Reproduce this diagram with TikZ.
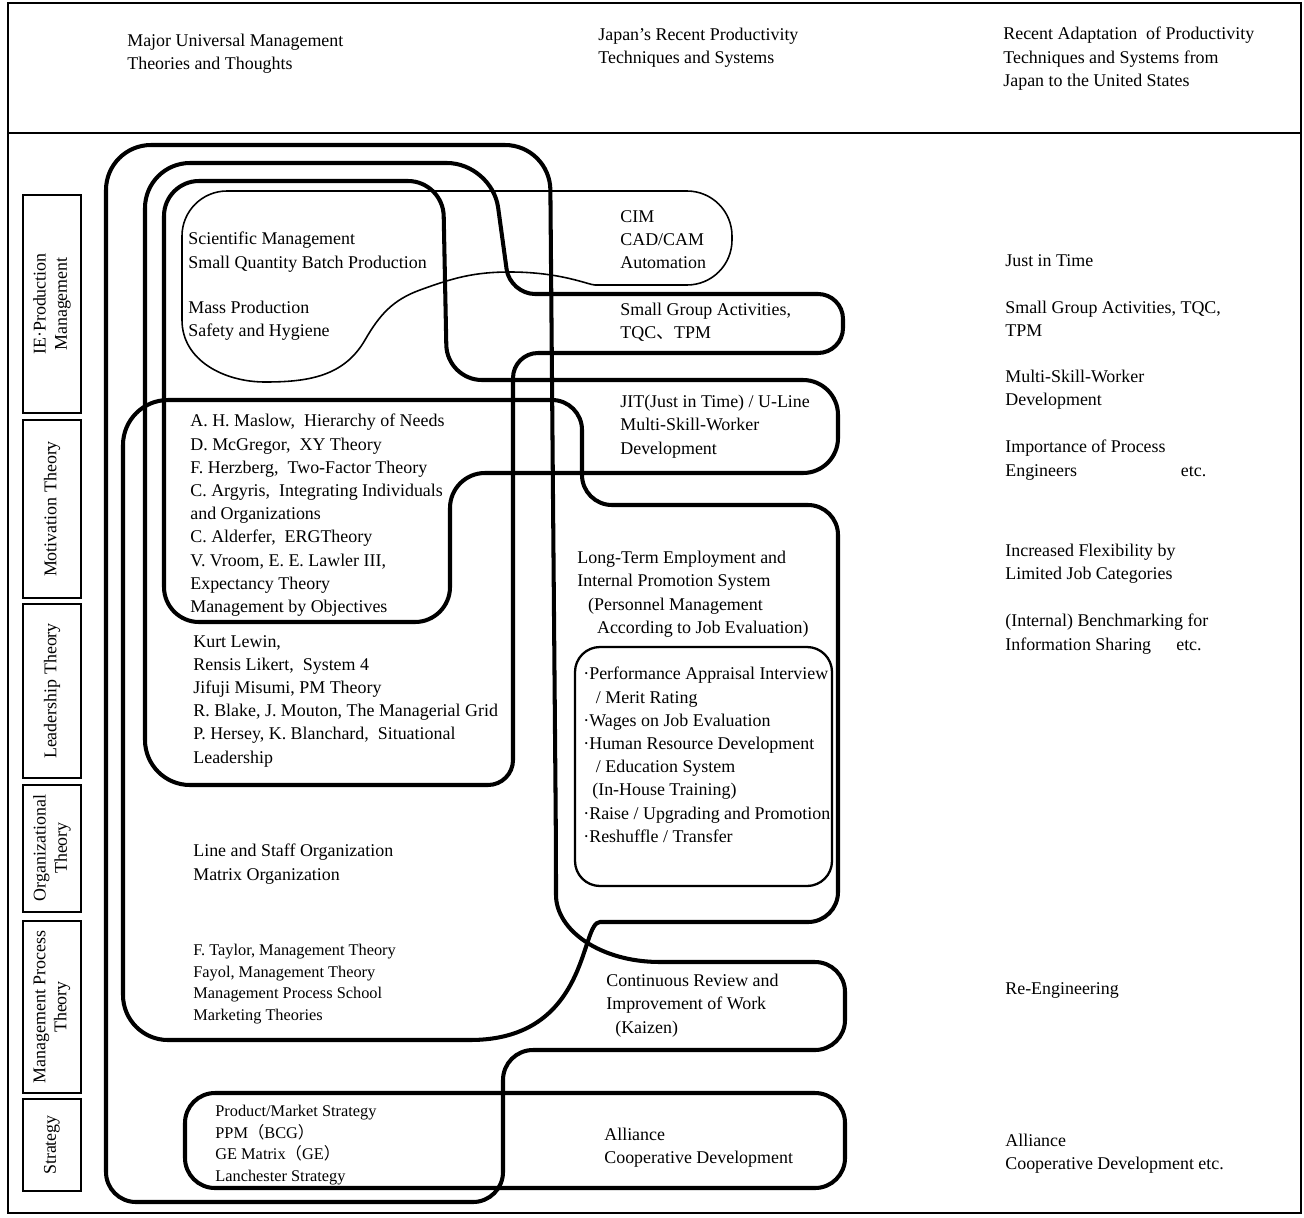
\documentclass[tikz,border=0pt]{standalone}
\usepackage{fontspec}
\setmainfont{Liberation Serif}
\newfontfamily\cjk{Noto Sans CJK JP}

\tikzstyle{txt}=[anchor=north west, inner sep=0pt, align=left, font=\fontsize{10.2}{13.2}\selectfont]
\tikzstyle{smalltxt}=[txt, font=\fontsize{9.3}{12.2}\selectfont]
\tikzstyle{rowbox}=[line width=1.1pt]
\tikzstyle{rowtxt}=[rotate=90, align=center, inner sep=0pt, font=\fontsize{10.2}{12}\selectfont]
\tikzstyle{loopline}=[line width=2.3pt, rounded corners=0.7cm]
\tikzstyle{thinloop}=[line width=0.9pt]
\tikzstyle{innerbox}=[line width=1.3pt, rounded corners=0.5cm]
\tikzstyle{frame}=[line width=0.8pt]

\begin{document}
\begin{tikzpicture}[x=0.02cm, y=-0.02cm]
  \useasboundingbox (0,0) rectangle (1304,1217);

  \draw[frame] (8,3) rectangle (1301,1213);
  \draw[frame] (8,133) -- (1301,133);
  \draw[line width=1.6pt] (8,3) -- (8,1213);

  \node[txt] (headleft) at (127,34) {Major Universal Management\\Theories and Thoughts};
  \node[txt] (headmid) at (598,28) {Japan's Recent Productivity\\Techniques and Systems};
  \node[txt] (headright) at (1003,27) {Recent Adaptation\ \ of Productivity\\Techniques and Systems from\\Japan to the United States};

  \draw[rowbox] (23,195) rectangle (81,413);
  \node[rowtxt] (rowie) at (52,304) {IE·Production\\Management};
  \draw[rowbox] (23,420) rectangle (81,598);
  \node[rowtxt] (rowmot) at (52,509) {Motivation Theory};
  \draw[rowbox] (23,604) rectangle (81,778);
  \node[rowtxt] (rowlead) at (52,691) {Leadership Theory};
  \draw[rowbox] (23,785) rectangle (81,912);
  \node[rowtxt] (roworg) at (52,848) {Organizational\\Theory};
  \draw[rowbox] (23,921) rectangle (81,1093);
  \node[rowtxt] (rowproc) at (52,1007) {Management Process\\Theory};
  \draw[rowbox] (23,1099) rectangle (81,1191);
  \node[rowtxt] (rowstrat) at (52,1145) {Strategy};

  \node[txt] (sci) at (188,232) {Scientific Management\\Small Quantity Batch Production};
  \node[txt] (mass) at (188,301) {Mass Production\\Safety and Hygiene};
  \node[txt] (maslow) at (190,414) {A. H. Maslow,\ \ Hierarchy of Needs\\D. McGregor,\ \ XY Theory\\F. Herzberg,\ \ Two-Factor Theory\\C. Argyris,\ \ Integrating Individuals\\and Organizations\\C. Alderfer,\ \ ERGTheory\\V. Vroom, E. E. Lawler III,\\Expectancy Theory\\Management by Objectives};
  \node[txt] (lewin) at (193,635) {Kurt Lewin,\\Rensis Likert,\ \ System 4\\Jifuji Misumi, PM Theory\\R. Blake, J. Mouton, The Managerial Grid\\P. Hersey, K. Blanchard,\ \ Situational\\Leadership};
  \node[txt] (org) at (193,844) {Line and Staff Organization\\Matrix Organization};
  \node[smalltxt] (taylor) at (193,944) {F. Taylor, Management Theory\\Fayol, Management Theory\\Management Process School\\Marketing Theories};
  \node[smalltxt] (prodmarket) at (215,1105) {Product/Market Strategy\\PPM{\cjk （}BCG{\cjk ）}\\GE Matrix{\cjk （}GE{\cjk ）}\\Lanchester Strategy};

  \node[txt] (cim) at (620,210) {CIM\\CAD/CAM\\Automation};
  \node[txt] (smallgroup) at (620,303) {Small Group Activities,\\TQC{\cjk 、}TPM};
  \node[txt] (jit) at (620,395) {JIT(Just in Time) / U-Line\\Multi-Skill-Worker\\Development};
  \node[txt] (longterm) at (577,551) {Long-Term Employment and\\Internal Promotion System\\\hspace{0.6em}(Personnel Management\\\hspace{1.1em}According to Job Evaluation)};
  \node[txt] (appraisal) at (583,667) {·Performance Appraisal Interview\\\hspace{0.7em}/ Merit Rating\\·Wages on Job Evaluation\\·Human Resource Development\\\hspace{0.7em}/ Education System\\\hspace{0.5em}(In-House Training)\\·Raise / Upgrading and Promotion\\·Reshuffle / Transfer};
  \node[txt] (kaizen) at (606,974) {Continuous Review and\\Improvement of Work\\\hspace{0.5em}(Kaizen)};
  \node[txt] (alliance) at (604,1128) {Alliance\\Cooperative Development};

  \node[txt] (usjit) at (1005,254) {Just in Time};
  \node[txt] (ussmall) at (1005,301) {Small Group Activities, TQC,\\TPM};
  \node[txt] (usmulti) at (1005,370) {Multi-Skill-Worker\\Development};
  \node[txt] (usprocess) at (1005,440) {Importance of Process\\Engineers\hspace{5.8em}etc.};
  \node[txt] (usflex) at (1005,544) {Increased Flexibility by\\Limited Job Categories};
  \node[txt] (usbench) at (1005,614) {(Internal) Benchmarking for\\Information Sharing\hspace{1.4em}etc.};
  \node[txt] (usreeng) at (1005,982) {Re-Engineering};
  \node[txt] (usalliance) at (1005,1134) {Alliance\\Cooperative Development etc.};

  \draw[loopline, rounded corners=0.9cm] (106,700) -- (106,145) -- (550,145) -- (556,850) [sharp corners] .. controls (556,930) and (600,962) .. (660,962) [rounded corners=0.6cm] -- (845,962) -- (845,1050) -- (503,1050) -- (503,1202) -- (106,1202) -- cycle;
  \draw[loopline] (145,600) [rounded corners=0.9cm] -- (145,163) -- (492,163) [rounded corners=0.5cm] -- (510,294) -- (843,294) -- (843,353) -- (513,353) -- (513,785) [rounded corners=0.9cm] -- (145,785) -- cycle;
  \draw[loopline] (164,400) -- (164,181) -- (443,181) -- (447,380) -- (838,380) -- (838,473) -- (450,473) -- (450,622) -- (164,622) -- cycle;
  \draw[loopline] (123,700) [rounded corners=0.9cm] -- (123,400) [rounded corners=0.6cm] -- (582,400) -- (582,505) -- (838,505) -- (838,922) -- (630,922) [sharp corners] .. controls (580,922) and (590,1040) .. (470,1040) [rounded corners=0.9cm] -- (123,1040) -- cycle;
  \draw[loopline, rounded corners=0.6cm] (185,1093) rectangle (845,1188);
  \draw[innerbox] (575,647) rectangle (832,886);
  \draw[thinloop] (182,320) [rounded corners=0.9cm] -- (182,191) -- (732,191) -- (732,285) -- (640,285) [sharp corners] to[out=180,in=0] (510,272) to[out=180,in=20] (420,290) to[out=200,in=60] (365,340) to[out=240,in=0] (265,382) to[out=180,in=-90] (182,320) -- cycle;
\end{tikzpicture}
\end{document}
